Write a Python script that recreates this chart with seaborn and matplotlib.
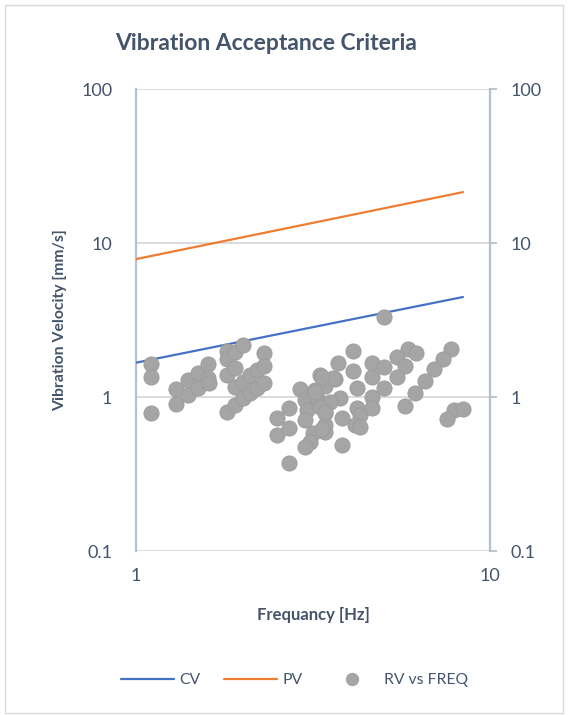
import numpy as np
import pandas as pd
import seaborn as sns
from matplotlib import pyplot as plt
from matplotlib.patches import Rectangle
from matplotlib.lines import Line2D

# criteria lines
cv_freq = [1.0, 8.39]
cv_vel = [1.67, 4.46]
pv_freq = [1.0, 8.39]
pv_vel = [7.86, 21.4]

# measured RV vs FREQ
rv_freq = [1.10, 1.10, 1.10, 1.30, 1.30, 1.40, 1.40, 1.50, 1.50, 1.60,
           1.60, 1.61, 1.81, 1.81, 1.90, 2.01, 1.81, 1.90, 1.90, 1.81,
           1.90, 2.01, 2.01, 2.10, 2.10, 2.20, 2.20, 2.30, 2.30, 2.30,
           2.50, 2.50, 2.70, 2.70, 2.70, 2.91, 4.10, 3.72, 4.64, 4.10,
           3.31, 3.65, 4.64, 3.20, 3.42, 4.21, 3.77, 4.64, 3.00, 3.27,
           3.04, 3.42, 3.82, 4.21, 4.29, 3.00, 3.42, 4.16, 3.42, 3.16,
           3.10, 3.00, 3.82, 5.02, 5.87, 6.18, 7.76, 7.37, 5.46, 5.75,
           5.02, 6.95, 5.46, 6.55, 5.02, 6.14, 5.75, 4.64, 7.91, 8.39,
           7.56, 4.29, 3.60, 3.53, 3.31, 3.35, 3.20, 3.42, 3.35]
rv_vel = [1.64, 1.35, 0.79, 1.13, 0.90, 1.29, 1.03, 1.43, 1.14, 1.64,
          1.33, 1.23, 1.99, 1.77, 1.96, 2.18, 1.39, 1.54, 1.16, 0.80,
          0.89, 0.985, 1.25, 1.39, 1.06, 1.50, 1.14, 1.93, 1.59, 1.23,
          0.73, 0.57, 0.85, 0.63, 0.37, 1.13, 1.99, 1.66, 1.66, 1.48,
          1.39, 1.31, 1.35, 1.11, 1.18, 1.14, 0.985, 1.00, 0.956, 0.956,
          0.82, 0.79, 0.73, 0.85, 0.76, 0.71, 0.66, 0.66, 0.59, 0.58,
          0.51, 0.47, 0.49, 3.31, 2.05, 1.93, 2.05, 1.77, 1.82, 1.59,
          1.57, 1.52, 1.35, 1.27, 1.14, 1.06, 0.87, 0.85, 0.82, 0.84,
          0.72, 0.64, 1.32, 0.93, 0.86, 1.35, 1.08, 0.80, 0.62]

y_ticks = [0.1, 1, 10, 100]
y_labels = ["0.1", "1", "10", "100"]
x_ticks = [1, 10]
x_labels = ["1", "10"]

text_col = "#44546a"
grid_col = "#d9d9d9"
spine_col = "#b4bfd0"

sns.set_style("white")
plt.rcParams['font.family'] = ['Lato', 'DejaVu Sans']

fig = plt.figure(figsize=(5.68, 7.15), dpi=100)
ax = fig.add_axes([136 / 568, 1 - 551 / 715, 354 / 568, 462 / 715])

cv = pd.DataFrame({"freq": cv_freq, "vel": cv_vel})
pv = pd.DataFrame({"freq": pv_freq, "vel": pv_vel})
rv = pd.DataFrame({"freq": rv_freq, "vel": rv_vel})

sns.lineplot(data=cv, x="freq", y="vel", ax=ax, color="#4472c4", lw=1.6, zorder=3)
sns.lineplot(data=pv, x="freq", y="vel", ax=ax, color="#ed7d31", lw=1.6, zorder=3)
sns.scatterplot(data=rv, x="freq", y="vel", ax=ax, color="#a5a5a5",
                edgecolor="#9b9b9b", linewidth=0.6, s=120, zorder=4)

ax.set_xscale("log")
ax.set_yscale("log")
ax.set_xlim(1, 10)
ax.set_ylim(0.1, 100)
ax.set_xticks(x_ticks)
ax.set_xticklabels(x_labels)
ax.set_yticks(y_ticks)
ax.set_yticklabels(y_labels)
ax.minorticks_off()
ax.yaxis.grid(True, color=grid_col, lw=1.3)
ax.xaxis.grid(False)
ax.tick_params(axis="y", length=0, pad=17, labelsize=13, labelcolor=text_col)
ax.tick_params(axis="x", length=0, pad=12, labelsize=13, labelcolor=text_col)

for s in ["top", "bottom"]:
    ax.spines[s].set_visible(False)
ax.spines["left"].set_color(spine_col)
ax.spines["left"].set_linewidth(1.6)
ax.spines["right"].set_visible(False)

ax2 = ax.twinx()
ax2.set_yscale("log")
ax2.set_ylim(0.1, 100)
ax2.set_yticks(y_ticks)
ax2.set_yticklabels(y_labels)
ax2.minorticks_off()
ax2.tick_params(axis="y", length=5, width=1.3, color=spine_col, pad=10,
                labelsize=13, labelcolor=text_col)
for s in ["top", "bottom", "left"]:
    ax2.spines[s].set_visible(False)
ax2.spines["right"].set_color(spine_col)
ax2.spines["right"].set_linewidth(1.6)

ax.set_xlabel("Frequancy [Hz]", fontsize=12, fontweight="bold", color=text_col, labelpad=17)
ax.set_ylabel("Vibration Velocity [mm/s]", fontsize=11.3, fontweight="bold", color=text_col, labelpad=10)

fig.text(266 / 568, 1 - 43 / 715, "Vibration Acceptance Criteria", ha="center", va="center",
         fontsize=16.5, fontweight="bold", color=text_col)

handles = [Line2D([], [], color="#4472c4", lw=1.6),
           Line2D([], [], color="#ed7d31", lw=1.6),
           Line2D([], [], ls="", marker="o", markersize=8.6, color="#a5a5a5")]
fig.legend(handles, ["CV", "PV", "RV vs FREQ"], loc="center", ncol=3,
           bbox_to_anchor=(294.5 / 568, 1 - 680 / 715), frameon=False, fontsize=11.3,
           labelcolor=text_col, handlelength=3.4, handletextpad=0.35, columnspacing=1.45)

fig.patches.append(Rectangle((0.008, 0.003), 0.984, 0.99, transform=fig.transFigure,
                             fill=False, edgecolor="#d9d9d9", lw=1))

fig.savefig("out.png", dpi=100)
